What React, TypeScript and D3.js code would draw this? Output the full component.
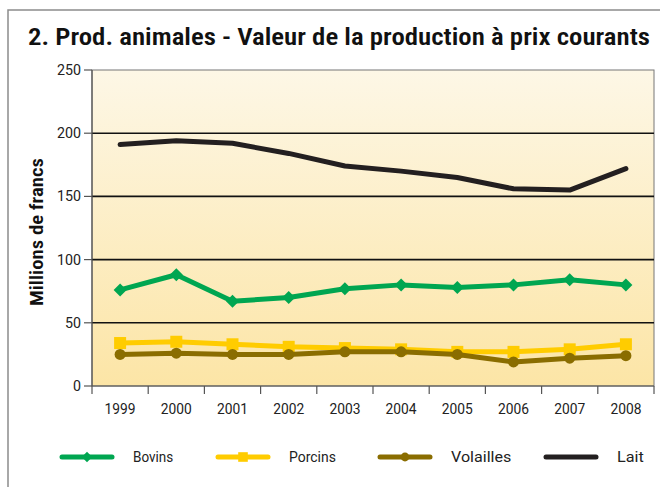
import { useMemo } from 'react';
import * as d3 from 'd3';

const years = ['1999', '2000', '2001', '2002', '2003', '2004', '2005', '2006', '2007', '2008'];
const lait = [191, 194, 192, 184, 174, 170, 165, 156, 155, 172];
const bovins = [76, 88, 67, 70, 77, 80, 78, 80, 84, 80];
const porcins = [34, 35, 33, 31, 30, 29, 27, 27, 29, 33];
const volailles = [25, 26, 25, 25, 27, 27, 25, 19, 22, 24];
const yTicks = [0, 50, 100, 150, 200, 250];

const W = 660;
const H = 487;
const left = 92;
const right = 654;
const top = 70;
const bottom = 386;

const series = [
  { name: 'Bovins', values: bovins, color: '#00a651', marker: 'diamond' },
  { name: 'Porcins', values: porcins, color: '#ffcc00', marker: 'square' },
  { name: 'Volailles', values: volailles, color: '#8a6d00', marker: 'circle' },
  { name: 'Lait', values: lait, color: '#231f20', marker: 'none' }
];

const legendX = [62, 218, 380, 546];

function Marker({ type, x, y, color, k = 1 }) {
  if (type === 'diamond') {
    const s = 6.5 * k;
    return <path d={`M${x},${y - s}L${x + s},${y}L${x},${y + s}L${x - s},${y}Z`} fill={color} />;
  }
  if (type === 'square') {
    const s = 6 * k;
    return <rect x={x - s} y={y - s} width={2 * s} height={2 * s} fill={color} />;
  }
  if (type === 'circle') {
    return <circle cx={x} cy={y} r={5.5 * k} fill={color} />;
  }
  return null;
}

export default function App() {
  const x = useMemo(() => d3.scaleBand().domain(years).range([left, right]), []);
  const y = useMemo(() => d3.scaleLinear().domain([0, 250]).range([bottom, top]), []);
  const cx = (yr) => x(yr) + x.bandwidth() / 2;

  const line = d3
    .line()
    .x((_, i) => cx(years[i]))
    .y((v) => y(v));

  const font = 'Roboto Condensed, "Liberation Sans Narrow", "Arial Narrow", Roboto, sans-serif';

  return (
    <svg width={W} height={H} style={{ position: 'absolute', left: 0, top: 0, background: '#fff' }} fontFamily={font}>
      <defs>
        <linearGradient id="bg" x1="0" y1="0" x2="0" y2="1">
          <stop offset="0" stopColor="#fdf7e6" />
          <stop offset="1" stopColor="#fce5a6" />
        </linearGradient>
      </defs>
      <rect x={8} y={10} width={700} height={500} fill="none" stroke="#8c8c8c" strokeWidth={1.5} />
      <text
        x={28}
        y={45}
        fontSize={24}
        fontWeight="600"
        fill="#111"
        textLength={622}
        lengthAdjust="spacingAndGlyphs"
      >
        2. Prod. animales - Valeur de la production à prix courants
      </text>

      <rect x={left} y={top} width={right - left} height={bottom - top} fill="url(#bg)" stroke="#777" strokeWidth={1} />

      {yTicks.map((t) => (
        <g key={t}>
          {t > 0 && t < 250 && (
            <line x1={left} x2={right} y1={y(t)} y2={y(t)} stroke="#111" strokeWidth={1.6} />
          )}
          <line x1={left - 8} x2={left} y1={y(t)} y2={y(t)} stroke="#555" strokeWidth={1.2} />
          <text x={left - 11} y={y(t)} dy="0.35em" textAnchor="end" fontSize={14} fill="#222" fontFamily="Roboto, sans-serif" textLength={String(t).length * 8} lengthAdjust="spacingAndGlyphs">
            {t}
          </text>
        </g>
      ))}
      <line x1={left} x2={left} y1={top} y2={bottom + 8} stroke="#555" strokeWidth={1.2} />
      <line x1={left} x2={right} y1={bottom} y2={bottom} stroke="#555" strokeWidth={1.2} />
      {years.map((yr) => (
        <g key={yr}>
          <line x1={x(yr) + x.bandwidth()} x2={x(yr) + x.bandwidth()} y1={bottom} y2={bottom + 8} stroke="#555" strokeWidth={1.2} />
          <text x={cx(yr)} y={414} textAnchor="middle" fontSize={14} fill="#222" fontFamily="Roboto, sans-serif" textLength={31} lengthAdjust="spacingAndGlyphs">
            {yr}
          </text>
        </g>
      ))}

      <text
        transform={`translate(43,${(top + bottom) / 2 + 4}) rotate(-90)`}
        textAnchor="middle"
        fontSize={18}
        fontWeight="600"
        fill="#111"
        textLength={148}
        lengthAdjust="spacingAndGlyphs"
      >
        Millions de francs
      </text>

      {series.map((s) => (
        <g key={s.name}>
          <path d={line(s.values)} fill="none" stroke={s.color} strokeWidth={5} strokeLinejoin="round" strokeLinecap="round" />
          {s.values.map((v, i) => (
            <Marker key={i} type={s.marker} x={cx(years[i])} y={y(v)} color={s.color} />
          ))}
        </g>
      ))}

      {series.map((s, i) => (
        <g key={s.name}>
          <line x1={legendX[i]} x2={legendX[i] + 50} y1={457} y2={457} stroke={s.color} strokeWidth={5} strokeLinecap="round" />
          <Marker type={s.marker} x={legendX[i] + 25} y={457} color={s.color} k={0.8} />
          <text x={legendX[i] + 71} y={457} dy="0.35em" fontSize={14} fill="#222" fontFamily="Roboto, sans-serif" textLength={s.name.length * 6.7} lengthAdjust="spacingAndGlyphs">
            {s.name}
          </text>
        </g>
      ))}
    </svg>
  );
}
